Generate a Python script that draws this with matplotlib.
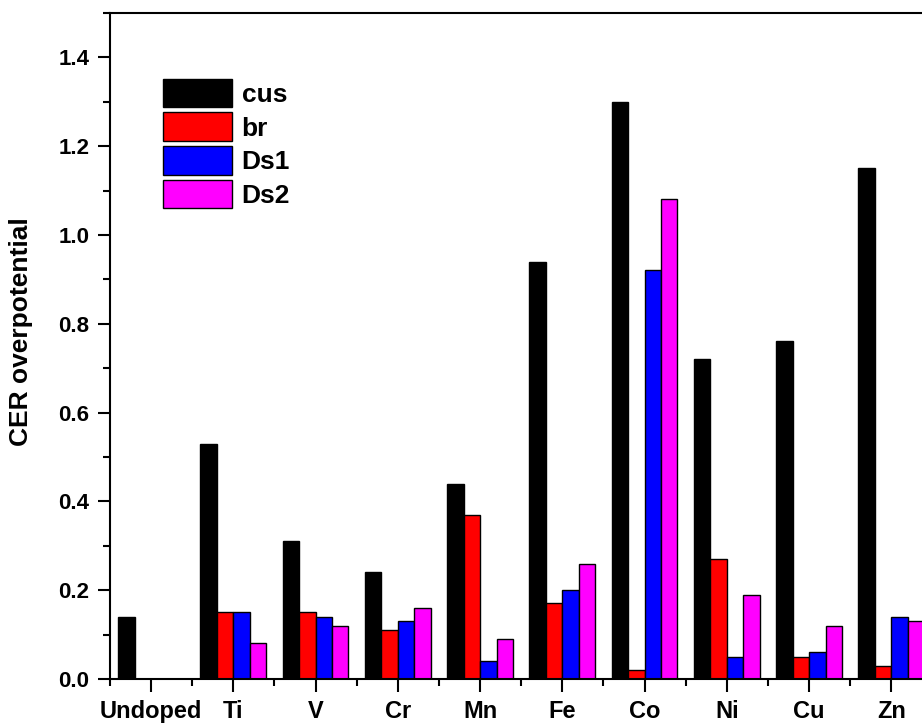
import matplotlib
matplotlib.use("Agg")
import matplotlib.pyplot as plt
import numpy as np
from matplotlib.ticker import MultipleLocator

# CER overpotential per dopant and site
dopants = ["Undoped", "Ti", "V", "Cr", "Mn", "Fe", "Co", "Ni", "Cu", "Zn"]
cus = [0.14, 0.53, 0.31, 0.24, 0.44, 0.94, 1.30, 0.72, 0.76, 1.15]
br = [0.0, 0.15, 0.15, 0.11, 0.37, 0.17, 0.02, 0.27, 0.05, 0.03]
ds1 = [0.0, 0.15, 0.14, 0.13, 0.04, 0.20, 0.92, 0.05, 0.06, 0.14]
ds2 = [0.0, 0.08, 0.12, 0.16, 0.09, 0.26, 1.08, 0.19, 0.12, 0.13]

plt.rcParams["font.family"] = ["Liberation Sans", "DejaVu Sans"]
plt.rcParams["font.weight"] = "bold"

fig = plt.figure(figsize=(9.22, 7.24), dpi=100)
ax = fig.add_axes([0.1193, 0.0622, 0.892, 0.920])

x = np.arange(1, len(dopants) + 1)
w = 0.2
series = [("cus", cus, "#000000"), ("br", br, "#ff0000"),
          ("Ds1", ds1, "#0000ff"), ("Ds2", ds2, "#ff00ff")]
for i, (lbl, vals, c) in enumerate(series):
    v = np.array(vals, dtype=float)
    v[v == 0] = np.nan  # undoped has only the cus site
    ax.bar(x + (i - 1.5) * w, v, w, color=c, edgecolor="black", lw=1.0, label=lbl)

ax.set_xlim(0.5, 10.5)
ax.set_ylim(0, 1.5)
ax.set_xticks(x)
ax.set_xticklabels(dopants, fontsize=17, fontweight="bold")
ax.xaxis.set_minor_locator(MultipleLocator(0.5))
ax.yaxis.set_major_locator(MultipleLocator(0.2))
ax.yaxis.set_minor_locator(MultipleLocator(0.1))
ax.tick_params(axis="y", labelsize=16, pad=6)
ax.tick_params(which="major", length=9, width=1.5, direction="out")
ax.tick_params(which="minor", length=5, width=1.5, direction="out")
ax.tick_params(axis="x", pad=6)
for s in ax.spines.values():
    s.set_linewidth(1.5)
ax.set_ylabel("CER overpotential", fontsize=19, fontweight="bold")
ax.yaxis.set_label_coords(-0.094, 0.522)

ax.legend(loc="upper left", bbox_to_anchor=(0.0645, 0.901), frameon=False,
          fontsize=19, handlelength=2.6, handleheight=1.29, labelspacing=0.19,
          handletextpad=0.38, borderpad=0, borderaxespad=0)

fig.savefig("out.png", dpi=100)
